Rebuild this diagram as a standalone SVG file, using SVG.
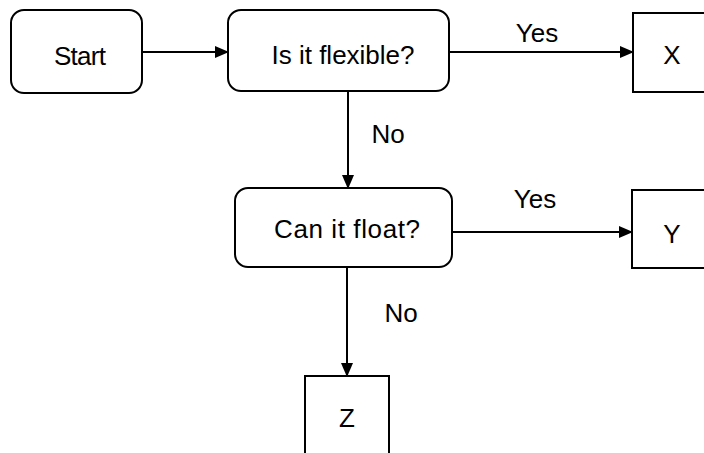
<svg xmlns="http://www.w3.org/2000/svg" width="704" height="453" viewBox="0 0 704 453">
<style>
.box{fill:#fff;stroke:#000;stroke-width:2}
.t{font-family:"Liberation Sans",Arial,sans-serif;font-size:26px;fill:#000;text-anchor:middle}
.c{stroke:#000;stroke-width:2;fill:none}
</style>
<defs>
<marker id="ah" markerWidth="14" markerHeight="12" refX="13" refY="6" orient="auto" markerUnits="userSpaceOnUse">
<path d="M0,0 L14,6 L0,12 Z" fill="#000"/>
</marker>
</defs>
<rect width="704" height="453" fill="#fff"/>
<g id="connectors">
<line class="c" x1="142" y1="52" x2="228" y2="52" marker-end="url(#ah)"/>
<line class="c" x1="449" y1="52" x2="633" y2="52" marker-end="url(#ah)"/>
<line class="c" x1="348" y1="91" x2="348" y2="188" marker-end="url(#ah)"/>
<line class="c" x1="452" y1="232" x2="632" y2="232" marker-end="url(#ah)"/>
<line class="c" x1="347" y1="267" x2="347" y2="376" marker-end="url(#ah)"/>
<text class="t" x="537" y="42">Yes</text>
<text class="t" x="388" y="143">No</text>
<text class="t" x="535" y="208">Yes</text>
<text class="t" x="401" y="322">No</text>
</g>
<g id="start">
<rect class="box" x="11" y="10" width="131" height="83" rx="13"/>
<text class="t" x="80" y="65" textLength="52">Start</text>
</g>
<g id="flexible">
<rect class="box" x="228" y="10" width="221" height="81" rx="13"/>
<text class="t" x="343" y="64" textLength="143">Is it flexible?</text>
</g>
<g id="x">
<rect class="box" x="633" y="13" width="100" height="79"/>
<text class="t" x="672" y="64">X</text>
</g>
<g id="float">
<rect class="box" x="235" y="188" width="217" height="79" rx="13"/>
<text class="t" x="347" y="238" textLength="146">Can it float?</text>
</g>
<g id="y">
<rect class="box" x="632" y="190" width="100" height="78"/>
<text class="t" x="672" y="243">Y</text>
</g>
<g id="z">
<rect class="box" x="305" y="376" width="84" height="100"/>
<text class="t" x="347" y="427">Z</text>
</g>
</svg>
